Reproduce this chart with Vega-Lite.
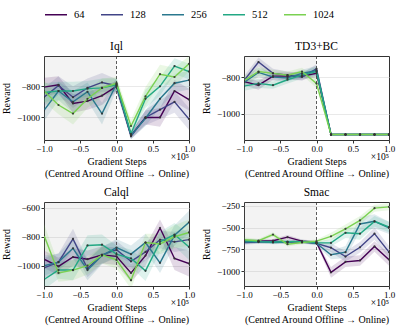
{
"$schema": "https://vega.github.io/schema/vega-lite/v6.json",
"padding": {"left": 0, "top": 2, "right": 10, "bottom": 2},
"datasets": {
"iql": [
{"size":64,"step":-1,"reward":-805,"err":60},{"size":64,"step":-0.8,"reward":-790,"err":55},{"size":64,"step":-0.6,"reward":-910,"err":60},{"size":64,"step":-0.4,"reward":-895,"err":55},{"size":64,"step":-0.2,"reward":-860,"err":60},{"size":64,"step":0,"reward":-800,"err":35},{"size":64,"step":0.2,"reward":-1115,"err":20},{"size":64,"step":0.4,"reward":-1000,"err":45},{"size":64,"step":0.6,"reward":-1000,"err":60},{"size":64,"step":0.8,"reward":-830,"err":70},{"size":64,"step":1,"reward":-885,"err":70},
{"size":128,"step":-1,"reward":-870,"err":60},{"size":128,"step":-0.8,"reward":-795,"err":60},{"size":128,"step":-0.6,"reward":-870,"err":70},{"size":128,"step":-0.4,"reward":-810,"err":60},{"size":128,"step":-0.2,"reward":-775,"err":60},{"size":128,"step":0,"reward":-795,"err":40},{"size":128,"step":0.2,"reward":-1120,"err":20},{"size":128,"step":0.4,"reward":-1000,"err":50},{"size":128,"step":0.6,"reward":-950,"err":60},{"size":128,"step":0.8,"reward":-900,"err":70},{"size":128,"step":1,"reward":-1010,"err":70},
{"size":256,"step":-1,"reward":-955,"err":70},{"size":256,"step":-0.8,"reward":-830,"err":60},{"size":256,"step":-0.6,"reward":-900,"err":70},{"size":256,"step":-0.4,"reward":-835,"err":60},{"size":256,"step":-0.2,"reward":-975,"err":70},{"size":256,"step":0,"reward":-785,"err":40},{"size":256,"step":0.2,"reward":-1115,"err":25},{"size":256,"step":0.4,"reward":-1005,"err":50},{"size":256,"step":0.6,"reward":-880,"err":60},{"size":256,"step":0.8,"reward":-780,"err":60},{"size":256,"step":1,"reward":-760,"err":60},
{"size":512,"step":-1,"reward":-840,"err":60},{"size":512,"step":-0.8,"reward":-830,"err":60},{"size":512,"step":-0.6,"reward":-830,"err":60},{"size":512,"step":-0.4,"reward":-815,"err":50},{"size":512,"step":-0.2,"reward":-810,"err":60},{"size":512,"step":0,"reward":-790,"err":40},{"size":512,"step":0.2,"reward":-1105,"err":25},{"size":512,"step":0.4,"reward":-880,"err":60},{"size":512,"step":0.6,"reward":-800,"err":60},{"size":512,"step":0.8,"reward":-670,"err":50},{"size":512,"step":1,"reward":-705,"err":50},
{"size":1024,"step":-1,"reward":-830,"err":70},{"size":1024,"step":-0.8,"reward":-920,"err":60},{"size":1024,"step":-0.6,"reward":-975,"err":70},{"size":1024,"step":-0.4,"reward":-880,"err":60},{"size":1024,"step":-0.2,"reward":-810,"err":60},{"size":1024,"step":0,"reward":-780,"err":40},{"size":1024,"step":0.2,"reward":-1055,"err":40},{"size":1024,"step":0.4,"reward":-865,"err":60},{"size":1024,"step":0.6,"reward":-722,"err":60},{"size":1024,"step":0.8,"reward":-740,"err":60},{"size":1024,"step":1,"reward":-655,"err":50}
],
"td3": [
{"size":64,"step":-1,"reward":-825,"err":20},{"size":64,"step":-0.8,"reward":-845,"err":25},{"size":64,"step":-0.6,"reward":-795,"err":20},{"size":64,"step":-0.4,"reward":-795,"err":20},{"size":64,"step":-0.2,"reward":-795,"err":20},{"size":64,"step":0,"reward":-780,"err":20},{"size":64,"step":0.2,"reward":-1115,"err":0},{"size":64,"step":0.4,"reward":-1115,"err":0},{"size":64,"step":0.6,"reward":-1115,"err":0},{"size":64,"step":0.8,"reward":-1115,"err":0},{"size":64,"step":1,"reward":-1115,"err":0},
{"size":128,"step":-1,"reward":-820,"err":25},{"size":128,"step":-0.8,"reward":-718,"err":25},{"size":128,"step":-0.6,"reward":-780,"err":25},{"size":128,"step":-0.4,"reward":-790,"err":20},{"size":128,"step":-0.2,"reward":-800,"err":20},{"size":128,"step":0,"reward":-755,"err":25},{"size":128,"step":0.2,"reward":-1115,"err":0},{"size":128,"step":0.4,"reward":-1115,"err":0},{"size":128,"step":0.6,"reward":-1115,"err":0},{"size":128,"step":0.8,"reward":-1115,"err":0},{"size":128,"step":1,"reward":-1115,"err":0},
{"size":256,"step":-1,"reward":-830,"err":25},{"size":256,"step":-0.8,"reward":-775,"err":25},{"size":256,"step":-0.6,"reward":-800,"err":20},{"size":256,"step":-0.4,"reward":-805,"err":20},{"size":256,"step":-0.2,"reward":-780,"err":20},{"size":256,"step":0,"reward":-765,"err":25},{"size":256,"step":0.2,"reward":-1115,"err":0},{"size":256,"step":0.4,"reward":-1115,"err":0},{"size":256,"step":0.6,"reward":-1115,"err":0},{"size":256,"step":0.8,"reward":-1115,"err":0},{"size":256,"step":1,"reward":-1115,"err":0},
{"size":512,"step":-1,"reward":-850,"err":25},{"size":512,"step":-0.8,"reward":-835,"err":25},{"size":512,"step":-0.6,"reward":-845,"err":20},{"size":512,"step":-0.4,"reward":-815,"err":20},{"size":512,"step":-0.2,"reward":-790,"err":20},{"size":512,"step":0,"reward":-770,"err":25},{"size":512,"step":0.2,"reward":-1115,"err":0},{"size":512,"step":0.4,"reward":-1115,"err":0},{"size":512,"step":0.6,"reward":-1115,"err":0},{"size":512,"step":0.8,"reward":-1115,"err":0},{"size":512,"step":1,"reward":-1115,"err":0},
{"size":1024,"step":-1,"reward":-820,"err":25},{"size":1024,"step":-0.8,"reward":-770,"err":25},{"size":1024,"step":-0.6,"reward":-780,"err":20},{"size":1024,"step":-0.4,"reward":-790,"err":20},{"size":1024,"step":-0.2,"reward":-770,"err":20},{"size":1024,"step":0,"reward":-835,"err":25},{"size":1024,"step":0.2,"reward":-1115,"err":0},{"size":1024,"step":0.4,"reward":-1115,"err":0},{"size":1024,"step":0.6,"reward":-1115,"err":0},{"size":1024,"step":0.8,"reward":-1115,"err":0},{"size":1024,"step":1,"reward":-1115,"err":0}
],
"calql": [
{"size":64,"step":-1,"reward":-955,"err":60},{"size":64,"step":-0.8,"reward":-1005,"err":60},{"size":64,"step":-0.6,"reward":-940,"err":60},{"size":64,"step":-0.4,"reward":-955,"err":60},{"size":64,"step":-0.2,"reward":-925,"err":60},{"size":64,"step":0,"reward":-935,"err":60},{"size":64,"step":0.2,"reward":-1050,"err":60},{"size":64,"step":0.4,"reward":-930,"err":70},{"size":64,"step":0.6,"reward":-740,"err":60},{"size":64,"step":0.8,"reward":-950,"err":80},{"size":64,"step":1,"reward":-985,"err":90},
{"size":128,"step":-1,"reward":-1015,"err":70},{"size":128,"step":-0.8,"reward":-975,"err":60},{"size":128,"step":-0.6,"reward":-815,"err":70},{"size":128,"step":-0.4,"reward":-1020,"err":60},{"size":128,"step":-0.2,"reward":-925,"err":60},{"size":128,"step":0,"reward":-890,"err":60},{"size":128,"step":0.2,"reward":-970,"err":60},{"size":128,"step":0.4,"reward":-905,"err":60},{"size":128,"step":0.6,"reward":-820,"err":60},{"size":128,"step":0.8,"reward":-835,"err":70},{"size":128,"step":1,"reward":-820,"err":70},
{"size":256,"step":-1,"reward":-1000,"err":70},{"size":256,"step":-0.8,"reward":-975,"err":60},{"size":256,"step":-0.6,"reward":-880,"err":70},{"size":256,"step":-0.4,"reward":-1030,"err":70},{"size":256,"step":-0.2,"reward":-930,"err":60},{"size":256,"step":0,"reward":-875,"err":60},{"size":256,"step":0.2,"reward":-920,"err":60},{"size":256,"step":0.4,"reward":-840,"err":60},{"size":256,"step":0.6,"reward":-980,"err":70},{"size":256,"step":0.8,"reward":-790,"err":70},{"size":256,"step":1,"reward":-700,"err":80},
{"size":512,"step":-1,"reward":-1095,"err":70},{"size":512,"step":-0.8,"reward":-1030,"err":60},{"size":512,"step":-0.6,"reward":-1030,"err":70},{"size":512,"step":-0.4,"reward":-860,"err":70},{"size":512,"step":-0.2,"reward":-855,"err":70},{"size":512,"step":0,"reward":-920,"err":60},{"size":512,"step":0.2,"reward":-950,"err":60},{"size":512,"step":0.4,"reward":-1035,"err":70},{"size":512,"step":0.6,"reward":-835,"err":70},{"size":512,"step":0.8,"reward":-785,"err":80},{"size":512,"step":1,"reward":-870,"err":90},
{"size":1024,"step":-1,"reward":-790,"err":80},{"size":1024,"step":-0.8,"reward":-1050,"err":60},{"size":1024,"step":-0.6,"reward":-1030,"err":70},{"size":1024,"step":-0.4,"reward":-1000,"err":60},{"size":1024,"step":-0.2,"reward":-925,"err":60},{"size":1024,"step":0,"reward":-960,"err":60},{"size":1024,"step":0.2,"reward":-1100,"err":60},{"size":1024,"step":0.4,"reward":-840,"err":60},{"size":1024,"step":0.6,"reward":-850,"err":70},{"size":1024,"step":0.8,"reward":-800,"err":80},{"size":1024,"step":1,"reward":-770,"err":90}
],
"smac": [
{"size":64,"step":-1,"reward":-660,"err":25},{"size":64,"step":-0.8,"reward":-655,"err":20},{"size":64,"step":-0.6,"reward":-650,"err":20},{"size":64,"step":-0.4,"reward":-610,"err":25},{"size":64,"step":-0.2,"reward":-655,"err":20},{"size":64,"step":0,"reward":-670,"err":20},{"size":64,"step":0.2,"reward":-1010,"err":60},{"size":64,"step":0.4,"reward":-890,"err":60},{"size":64,"step":0.6,"reward":-875,"err":60},{"size":64,"step":0.8,"reward":-715,"err":60},{"size":64,"step":1,"reward":-865,"err":70},
{"size":128,"step":-1,"reward":-670,"err":25},{"size":128,"step":-0.8,"reward":-665,"err":20},{"size":128,"step":-0.6,"reward":-660,"err":20},{"size":128,"step":-0.4,"reward":-665,"err":20},{"size":128,"step":-0.2,"reward":-665,"err":20},{"size":128,"step":0,"reward":-680,"err":20},{"size":128,"step":0.2,"reward":-730,"err":50},{"size":128,"step":0.4,"reward":-830,"err":60},{"size":128,"step":0.6,"reward":-725,"err":60},{"size":128,"step":0.8,"reward":-570,"err":70},{"size":128,"step":1,"reward":-780,"err":70},
{"size":256,"step":-1,"reward":-665,"err":25},{"size":256,"step":-0.8,"reward":-660,"err":20},{"size":256,"step":-0.6,"reward":-670,"err":20},{"size":256,"step":-0.4,"reward":-665,"err":20},{"size":256,"step":-0.2,"reward":-660,"err":20},{"size":256,"step":0,"reward":-680,"err":20},{"size":256,"step":0.2,"reward":-810,"err":50},{"size":256,"step":0.4,"reward":-780,"err":70},{"size":256,"step":0.6,"reward":-460,"err":80},{"size":256,"step":0.8,"reward":-430,"err":80},{"size":256,"step":1,"reward":-505,"err":70},
{"size":512,"step":-1,"reward":-650,"err":25},{"size":512,"step":-0.8,"reward":-660,"err":20},{"size":512,"step":-0.6,"reward":-665,"err":20},{"size":512,"step":-0.4,"reward":-660,"err":20},{"size":512,"step":-0.2,"reward":-660,"err":20},{"size":512,"step":0,"reward":-675,"err":20},{"size":512,"step":0.2,"reward":-675,"err":40},{"size":512,"step":0.4,"reward":-560,"err":60},{"size":512,"step":0.6,"reward":-570,"err":70},{"size":512,"step":0.8,"reward":-430,"err":60},{"size":512,"step":1,"reward":-495,"err":60},
{"size":1024,"step":-1,"reward":-640,"err":30},{"size":1024,"step":-0.8,"reward":-650,"err":20},{"size":1024,"step":-0.6,"reward":-580,"err":25},{"size":1024,"step":-0.4,"reward":-690,"err":25},{"size":1024,"step":-0.2,"reward":-670,"err":20},{"size":1024,"step":0,"reward":-655,"err":20},{"size":1024,"step":0.2,"reward":-600,"err":40},{"size":1024,"step":0.4,"reward":-515,"err":50},{"size":1024,"step":0.6,"reward":-420,"err":50},{"size":1024,"step":0.8,"reward":-280,"err":40},{"size":1024,"step":1,"reward":-265,"err":40}
]
},
"columns": 2,
"spacing": {"row": 62, "column": 55},
"bounds": "flush",
"resolve": {"scale": {"y": "independent"}},
"config": {
  "font": "Liberation Serif",
  "view": {"stroke": "#333", "strokeWidth": 1},
  "axis": {"labelFont": "Liberation Serif", "labelFontSize": 9, "labelColor": "#000", "titleFont": "Liberation Serif", "titleFontSize": 10, "titleFontWeight": "normal", "titleColor": "#000", "gridColor": "#e3e3e3", "gridWidth": 0.8, "domain": false, "ticks": true, "tickSize": 3, "tickColor": "#333", "tickCount": 12, "labelPadding": 1.5, "labelFlush": false, "labelOverlap": false},
  "title": {"font": "Liberation Serif", "fontSize": 11.5, "fontWeight": "normal", "color": "#000", "offset": 3},
  "text": {"font": "Liberation Serif"},
  "legend": {"orient": "none", "direction": "horizontal", "legendX": 0, "legendY": -53.5, "title": null, "labelFont": "Liberation Serif", "labelFontSize": 10.5, "labelColor": "#000", "symbolType": "M-1,0L1,0", "symbolSize": 484, "symbolStrokeWidth": 1.5, "symbolOpacity": 1, "columnPadding": 13, "labelOffset": 6}
},
"concat": [
{
 "width": 145, "height": 84, "title": "Iql",
 "data": {"name": "iql"},
 "layer": [
  {"data": {"values": [{}]}, "mark": {"type": "rect", "color": "#888", "opacity": 0.1}, "encoding": {"x": {"datum": -1, "type": "quantitative", "scale": {"domain": [-1, 1], "nice": false}}, "x2": {"datum": 0}}},
  {"mark": {"type": "errorband", "opacity": 0.15, "clip": true}, "encoding": {"x": {"field": "step", "type": "quantitative", "axis": {"title": ["Gradient Steps", "(Centred Around Offline → Online)"], "values": [-1, -0.5, 0, 0.5, 1], "format": ".1f", "titlePadding": 3}}, "y": {"field": "reward", "type": "quantitative", "scale": {"domain": [-1145, -605], "nice": false, "zero": false}, "axis": {"title": "Reward", "values": [-1000, -800], "format": "d", "titlePadding": 5}}, "yError": {"field": "err"}, "color": {"field": "size", "type": "nominal", "scale": {"domain": [64, 128, 256, 512, 1024], "range": ["#440154", "#414487", "#2a788e", "#22a884", "#7ad151"]}}}},
  {"mark": {"type": "line", "strokeWidth": 1.4, "clip": true}, "encoding": {"x": {"field": "step", "type": "quantitative"}, "y": {"field": "reward", "type": "quantitative"}, "color": {"field": "size", "type": "nominal"}}},
  {"mark": {"type": "point", "filled": true, "size": 5, "color": "#333", "opacity": 0.9, "clip": true}, "encoding": {"x": {"field": "step", "type": "quantitative"}, "y": {"field": "reward", "type": "quantitative"}}},
  {"data": {"values": [{}]}, "mark": {"type": "rule", "color": "#333", "strokeDash": [3, 2], "strokeWidth": 0.8}, "encoding": {"x": {"datum": 0}}},
  {"data": {"values": [{"t": "×10⁵"}]}, "mark": {"type": "text", "align": "right", "baseline": "middle", "dy": 17, "fontSize": 9.5}, "encoding": {"x": {"datum": 1}, "y": {"datum": -1145}, "text": {"field": "t"}}}
 ]
},
{
 "width": 145, "height": 84, "title": "TD3+BC",
 "data": {"name": "td3"},
 "layer": [
  {"data": {"values": [{}]}, "mark": {"type": "rect", "color": "#888", "opacity": 0.1}, "encoding": {"x": {"datum": -1, "type": "quantitative", "scale": {"domain": [-1, 1], "nice": false}}, "x2": {"datum": 0}}},
  {"mark": {"type": "errorband", "opacity": 0.15, "clip": true}, "encoding": {"x": {"field": "step", "type": "quantitative", "axis": {"title": ["Gradient Steps", "(Centred Around Offline → Online)"], "values": [-1, -0.5, 0, 0.5, 1], "format": ".1f", "titlePadding": 3}}, "y": {"field": "reward", "type": "quantitative", "scale": {"domain": [-1145, -685], "nice": false, "zero": false}, "axis": {"title": "Reward", "values": [-1000, -800], "format": "d", "titlePadding": 5}}, "yError": {"field": "err"}, "color": {"field": "size", "type": "nominal"}}},
  {"mark": {"type": "line", "strokeWidth": 1.4, "clip": true}, "encoding": {"x": {"field": "step", "type": "quantitative"}, "y": {"field": "reward", "type": "quantitative"}, "color": {"field": "size", "type": "nominal"}}},
  {"mark": {"type": "point", "filled": true, "size": 5, "color": "#333", "opacity": 0.9, "clip": true}, "encoding": {"x": {"field": "step", "type": "quantitative"}, "y": {"field": "reward", "type": "quantitative"}}},
  {"data": {"values": [{}]}, "mark": {"type": "rule", "color": "#333", "strokeDash": [3, 2], "strokeWidth": 0.8}, "encoding": {"x": {"datum": 0}}},
  {"data": {"values": [{"t": "×10⁵"}]}, "mark": {"type": "text", "align": "right", "baseline": "middle", "dy": 17, "fontSize": 9.5}, "encoding": {"x": {"datum": 1}, "y": {"datum": -1145}, "text": {"field": "t"}}}
 ]
},
{
 "width": 145, "height": 84, "title": "Calql",
 "data": {"name": "calql"},
 "layer": [
  {"data": {"values": [{}]}, "mark": {"type": "rect", "color": "#888", "opacity": 0.1}, "encoding": {"x": {"datum": -1, "type": "quantitative", "scale": {"domain": [-1, 1], "nice": false}}, "x2": {"datum": 0}}},
  {"mark": {"type": "errorband", "opacity": 0.15, "clip": true}, "encoding": {"x": {"field": "step", "type": "quantitative", "axis": {"title": ["Gradient Steps", "(Centred Around Offline → Online)"], "values": [-1, -0.5, 0, 0.5, 1], "format": ".1f", "titlePadding": 3}}, "y": {"field": "reward", "type": "quantitative", "scale": {"domain": [-1140, -560], "nice": false, "zero": false}, "axis": {"title": "Reward", "values": [-1000, -800, -600], "format": "d", "titlePadding": 5}}, "yError": {"field": "err"}, "color": {"field": "size", "type": "nominal"}}},
  {"mark": {"type": "line", "strokeWidth": 1.4, "clip": true}, "encoding": {"x": {"field": "step", "type": "quantitative"}, "y": {"field": "reward", "type": "quantitative"}, "color": {"field": "size", "type": "nominal"}}},
  {"mark": {"type": "point", "filled": true, "size": 5, "color": "#333", "opacity": 0.9, "clip": true}, "encoding": {"x": {"field": "step", "type": "quantitative"}, "y": {"field": "reward", "type": "quantitative"}}},
  {"data": {"values": [{}]}, "mark": {"type": "rule", "color": "#333", "strokeDash": [3, 2], "strokeWidth": 0.8}, "encoding": {"x": {"datum": 0}}},
  {"data": {"values": [{"t": "×10⁵"}]}, "mark": {"type": "text", "align": "right", "baseline": "middle", "dy": 17, "fontSize": 9.5}, "encoding": {"x": {"datum": 1}, "y": {"datum": -1140}, "text": {"field": "t"}}}
 ]
},
{
 "width": 145, "height": 84, "title": "Smac",
 "data": {"name": "smac"},
 "layer": [
  {"data": {"values": [{}]}, "mark": {"type": "rect", "color": "#888", "opacity": 0.1}, "encoding": {"x": {"datum": -1, "type": "quantitative", "scale": {"domain": [-1, 1], "nice": false}}, "x2": {"datum": 0}}},
  {"mark": {"type": "errorband", "opacity": 0.15, "clip": true}, "encoding": {"x": {"field": "step", "type": "quantitative", "axis": {"title": ["Gradient Steps", "(Centred Around Offline → Online)"], "values": [-1, -0.5, 0, 0.5, 1], "format": ".1f", "titlePadding": 3}}, "y": {"field": "reward", "type": "quantitative", "scale": {"domain": [-1165, -210], "nice": false, "zero": false}, "axis": {"title": "Reward", "values": [-1000, -750, -500, -250], "format": "d", "titlePadding": 5}}, "yError": {"field": "err"}, "color": {"field": "size", "type": "nominal"}}},
  {"mark": {"type": "line", "strokeWidth": 1.4, "clip": true}, "encoding": {"x": {"field": "step", "type": "quantitative"}, "y": {"field": "reward", "type": "quantitative"}, "color": {"field": "size", "type": "nominal"}}},
  {"mark": {"type": "point", "filled": true, "size": 5, "color": "#333", "opacity": 0.9, "clip": true}, "encoding": {"x": {"field": "step", "type": "quantitative"}, "y": {"field": "reward", "type": "quantitative"}}},
  {"data": {"values": [{}]}, "mark": {"type": "rule", "color": "#333", "strokeDash": [3, 2], "strokeWidth": 0.8}, "encoding": {"x": {"datum": 0}}},
  {"data": {"values": [{"t": "×10⁵"}]}, "mark": {"type": "text", "align": "right", "baseline": "middle", "dy": 17, "fontSize": 9.5}, "encoding": {"x": {"datum": 1}, "y": {"datum": -1165}, "text": {"field": "t"}}}
 ]
}
]
}
